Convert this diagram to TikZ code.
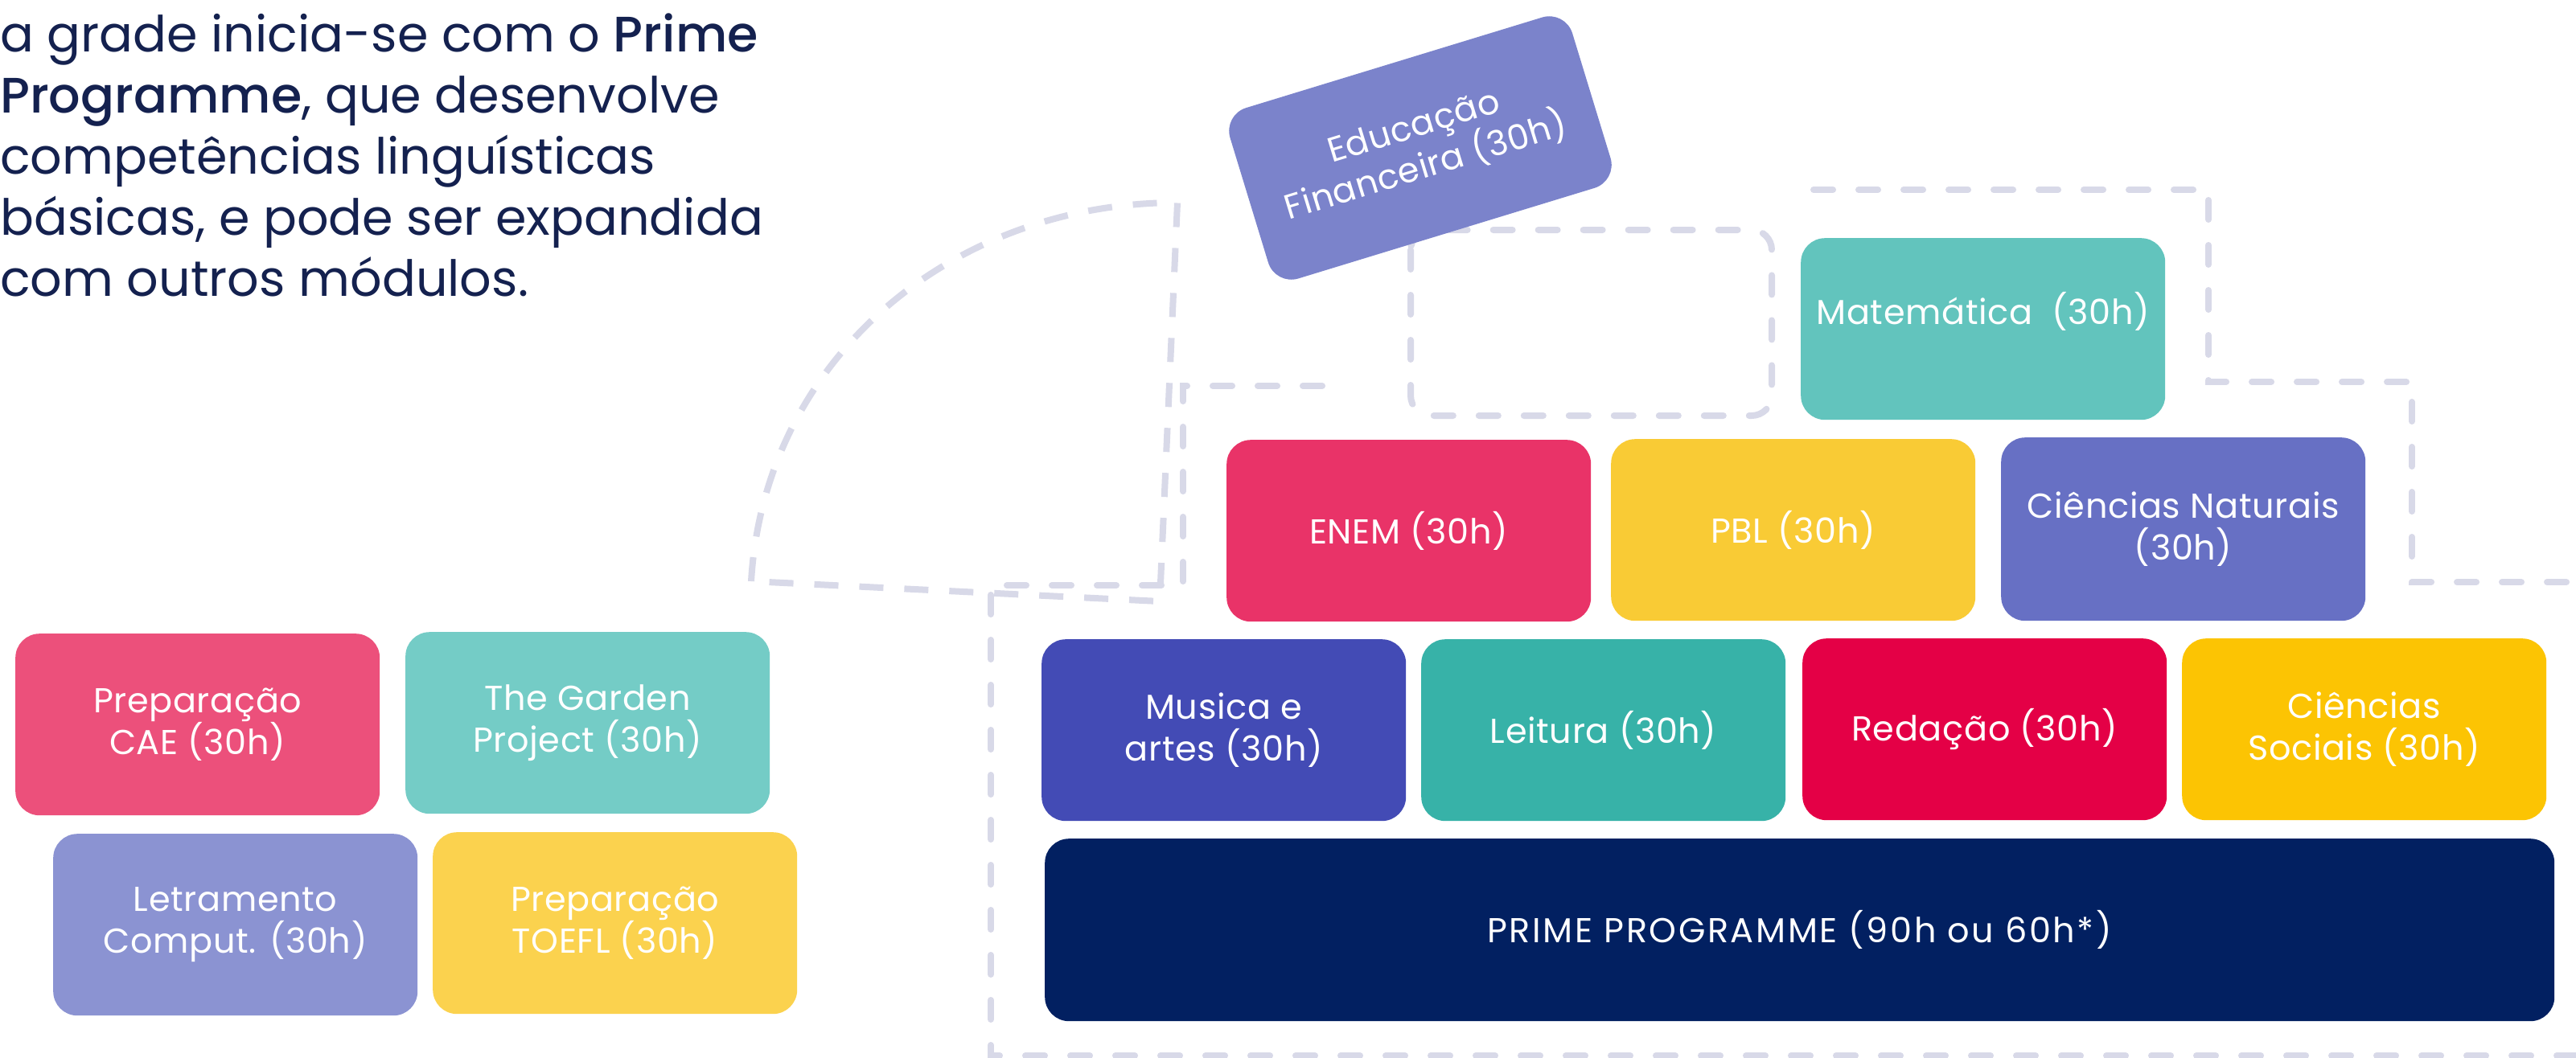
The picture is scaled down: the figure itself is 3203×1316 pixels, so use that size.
\documentclass[tikz,border=0pt]{standalone}
\usepackage{fontspec}
\setmainfont{Poppins}[BoldFont={Poppins Medium}]
\newfontfamily\boxfam{Poppins}[LetterSpace=1.5]
\newfontfamily\primefam{Poppins}[LetterSpace=6]
\definecolor{navy}{HTML}{14214F}
\definecolor{dash}{HTML}{D8D9E8}
\definecolor{cEdu}{HTML}{7B83CB}
\definecolor{cMat}{HTML}{62C4BD}
\definecolor{cEnem}{HTML}{E93368}
\definecolor{cPbl}{HTML}{F9CB35}
\definecolor{cCn}{HTML}{6770C4}
\definecolor{cMus}{HTML}{434BB5}
\definecolor{cLei}{HTML}{37B2A8}
\definecolor{cRed}{HTML}{E40046}
\definecolor{cCs}{HTML}{FCC403}
\definecolor{cPrime}{HTML}{022061}
\definecolor{cCae}{HTML}{EC507B}
\definecolor{cGar}{HTML}{74CCC6}
\definecolor{cLet}{HTML}{8B93D2}
\definecolor{cToe}{HTML}{FBD24E}
\newcommand{\boxfont}{\boxfam\fontsize{43}{52}\selectfont}
\newcommand{\primefont}{\primefam\fontsize{43}{52}\selectfont}
\newcommand{\headfont}{\fontsize{62}{76}\selectfont}
\begin{document}
\begin{tikzpicture}[x=1pt,y=-1pt,
  modbox/.style={rounded corners=30pt, minimum width=453pt, minimum height=226pt,
    text=white, font=\boxfont, align=center, inner sep=0pt, anchor=north west},
  dashline/.style={draw=dash, line width=8pt, line cap=round, dash pattern=on 24pt off 32pt},
  headline/.style={anchor=base west, inner sep=0pt, text=navy, font=\headfont}]
\useasboundingbox (0,0) rectangle (3203,1316);
\fill[white] (0,0) rectangle (3203,1316);

% dashed decorations
\draw[dashline, line cap=butt, dash pattern=on 30pt off 26pt] (934,723) .. controls (950,450) and (1180,252) .. (1464,252) -- (1442,748) -- cycle;
\draw[dashline] (3203,1313) -- (1232,1313) -- (1232,728) -- (1471,728) -- (1471,480) -- (1655,480);
\draw[dashline, rounded corners=25pt] (1754,286) rectangle (2203,517);
\draw[dashline] (2255,236) -- (2746,236) -- (2746,475) -- (2999,475) -- (2999,724) -- (3203,724);

% headline
\node[headline] (h1) at (0,65) {a grade inicia-se com o \textbf{Prime}};
\node[headline] (h2) at (0,140.5) {\textbf{Programme}, que desenvolve};
\node[headline] (h3) at (0,216.5) {competências linguísticas};
\node[headline] (h4) at (0,292) {básicas, e pode ser expandida};
\node[headline] (h5) at (0,368) {com outros módulos.};

% pyramid
\node[modbox, fill=cEdu, anchor=center, rotate=17, minimum width=445pt, minimum height=222pt] (edu) at (1766,184) {Educação\\Financeira (30h)};
\node[modbox, fill=cMat] (mat) at (2239,296) {Matemática\ \ (30h)\\\mbox{}};
\node[modbox, fill=cEnem] (enem) at (1525,547) {ENEM (30h)};
\node[modbox, fill=cPbl] (pbl) at (2003,546) {PBL (30h)};
\node[modbox, fill=cCn, minimum height=228pt] (cn) at (2488,544) {Ciências Naturais\\(30h)};
\node[modbox, fill=cMus] (mus) at (1295,795) {Musica e\\artes (30h)};
\node[modbox, fill=cLei] (lei) at (1767,795) {Leitura (30h)};
\node[modbox, fill=cRed] (red) at (2241,794) {Redação (30h)};
\node[modbox, fill=cCs] (cs) at (2713,794) {Ciências\\Sociais (30h)};
\node[modbox, fill=cPrime, font=\primefont, minimum width=1877pt, minimum height=227pt] (prime) at (1299,1043) {PRIME PROGRAMME (90h ou 60h*)};

% extra modules
\node[modbox, fill=cCae] (cae) at (19,788) {Preparação\\CAE (30h)};
\node[modbox, fill=cGar] (gar) at (504,786) {The Garden\\Project (30h)};
\node[modbox, fill=cLet] (let) at (66,1037) {Letramento\\Comput. (30h)};
\node[modbox, fill=cToe] (toe) at (538,1035) {Preparação\\TOEFL (30h)};
\end{tikzpicture}
\end{document}
